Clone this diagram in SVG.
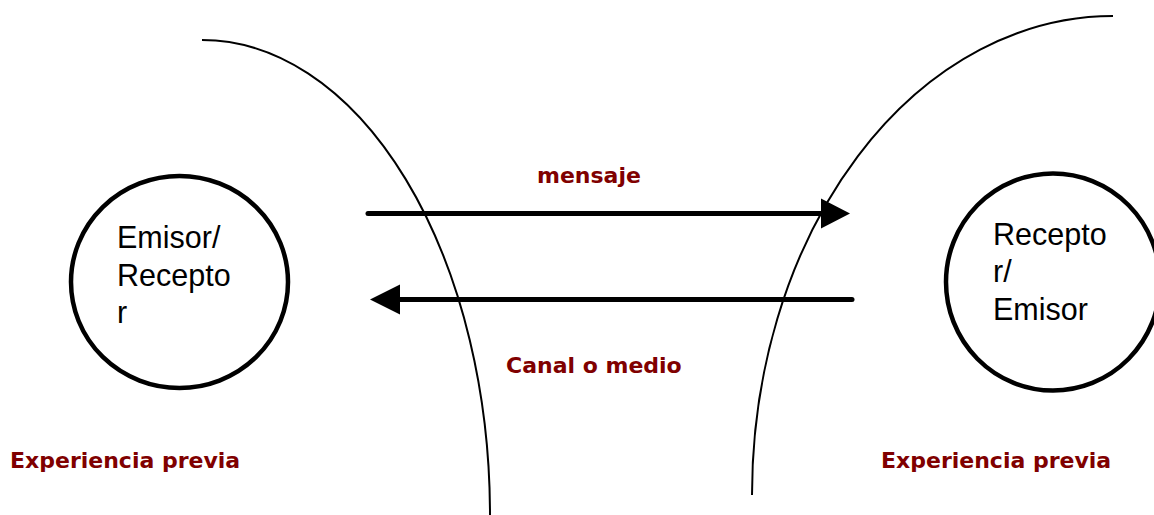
<svg xmlns="http://www.w3.org/2000/svg" width="1154" height="515" viewBox="0 0 1154 515">
<style>
.bound{fill:none;stroke:#000;stroke-width:2}
.node{fill:#fff;stroke:#000;stroke-width:4.5}
.arrow{stroke:#000;stroke-width:5;stroke-linecap:round;fill:none}
.head{fill:#000}
.lbl{font-family:"Liberation Sans",Arial,sans-serif;font-size:30.5px;fill:#000}
.red{font-family:"DejaVu Sans",Verdana,sans-serif;font-weight:bold;font-size:22px;fill:#800000}
</style>
<rect width="1154" height="515" fill="#fff"/>
<g id="boundaries">
<path class="bound" d="M202,40 A288,475 0 0 1 490,515"/>
<path class="bound" d="M1113,16 A361,479 0 0 0 752,495"/>
</g>
<g id="connectors">
<line class="arrow" x1="368" y1="213.5" x2="825" y2="213.5"/>
<polygon class="head" points="850,213.5 821,198.5 821,228.5"/>
<line class="arrow" x1="852" y1="299.5" x2="395" y2="299.5"/>
<polygon class="head" points="370,299.5 400,284.5 400,314.5"/>
<text class="red" x="537" y="182.5">mensaje</text>
<text class="red" x="506" y="373">Canal o medio</text>
</g>
<g id="emisor">
<ellipse class="node" cx="179.5" cy="282" rx="108.5" ry="106"/>
<text class="lbl" x="117" y="248">Emisor/</text>
<text class="lbl" x="117" y="286">Recepto</text>
<text class="lbl" x="117" y="323">r</text>
</g>
<g id="receptor">
<ellipse class="node" cx="1053" cy="282" rx="107" ry="108.5"/>
<text class="lbl" x="993" y="245">Recepto</text>
<text class="lbl" x="993" y="282">r/</text>
<text class="lbl" x="993" y="320">Emisor</text>
</g>
<g id="exp-left">
<text class="red" x="10" y="468">Experiencia previa</text>
</g>
<g id="exp-right">
<text class="red" x="881" y="468">Experiencia previa</text>
</g>
</svg>
